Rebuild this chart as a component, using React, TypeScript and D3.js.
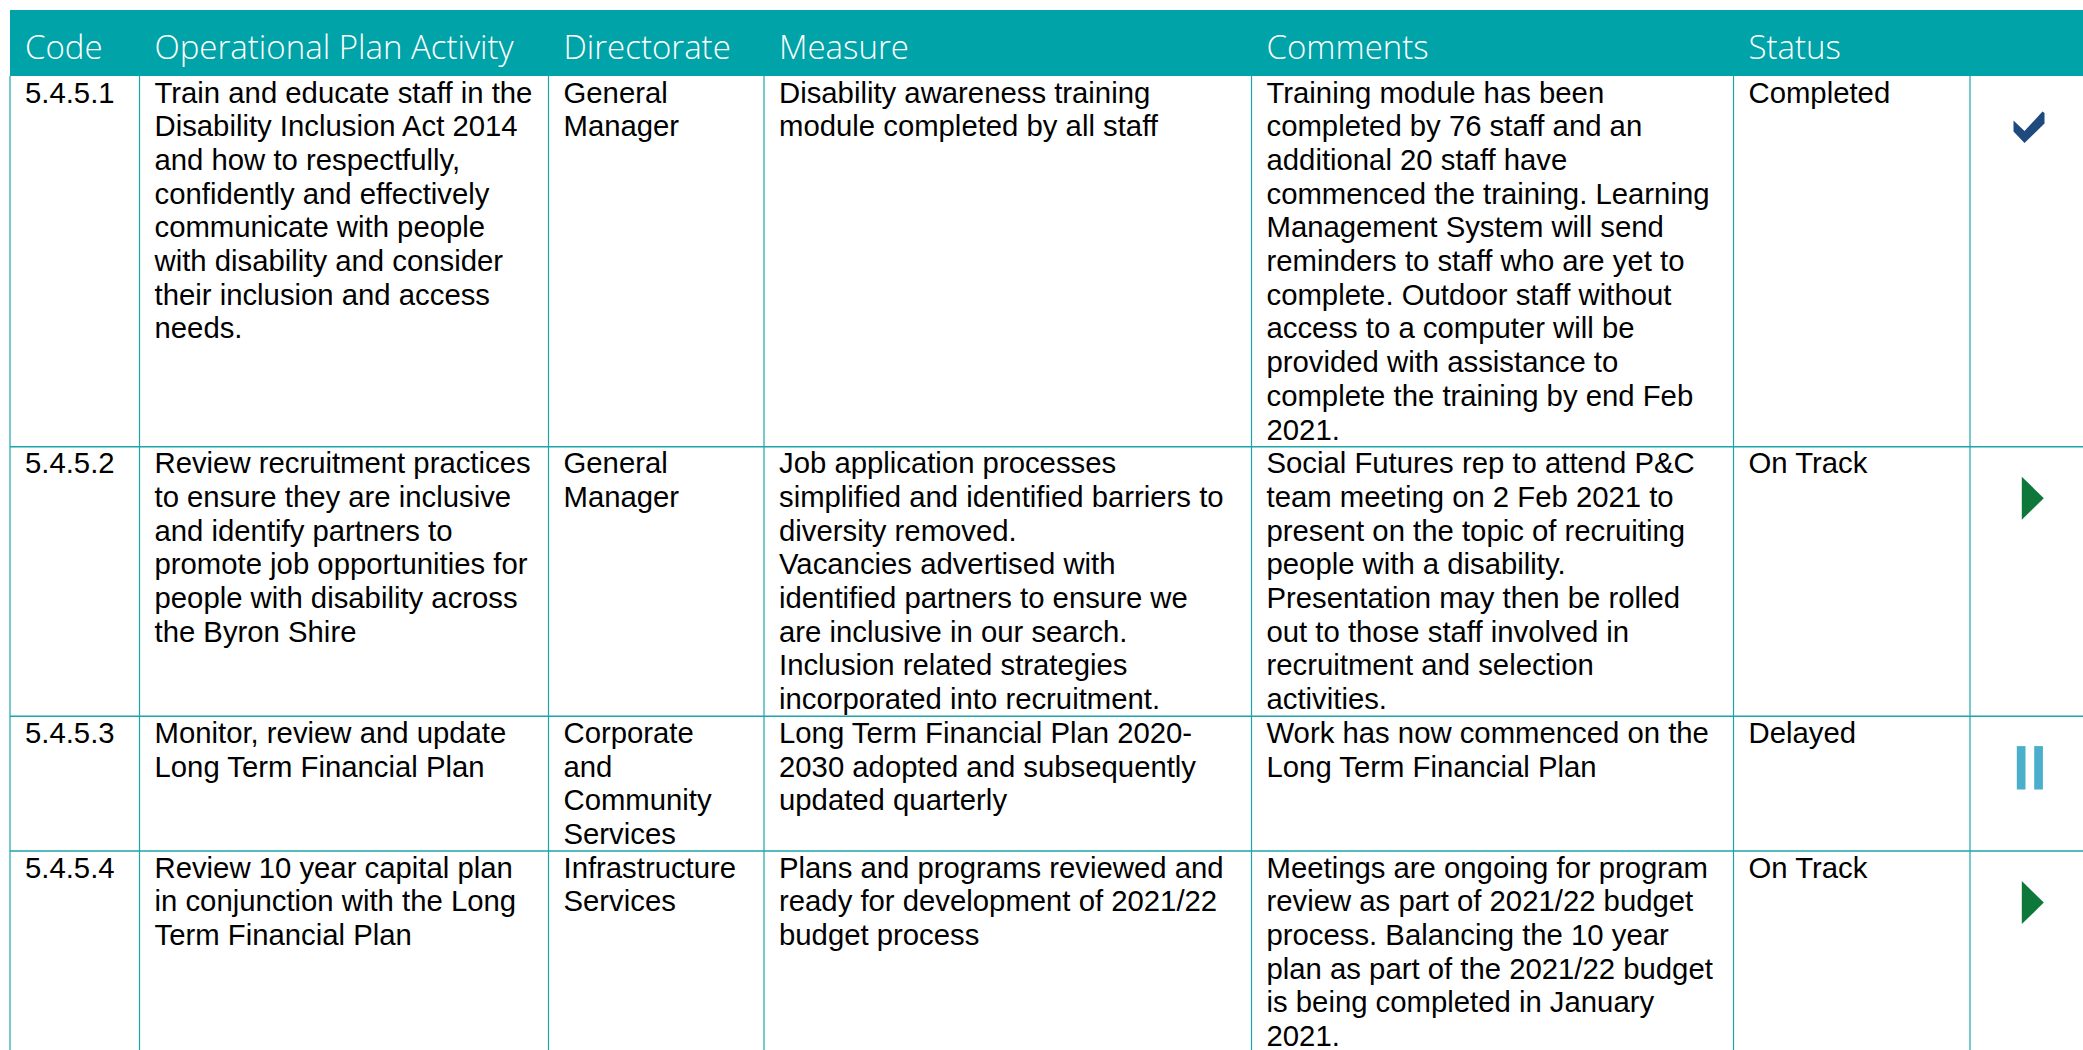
import React from "react";
import * as d3 from "d3";

// table content, one entry per row, each cell kept as its printed lines
const headers = ["Code", "Operational Plan Activity", "Directorate", "Measure", "Comments", "Status", ""];

const codes = ["5.4.5.1", "5.4.5.2", "5.4.5.3", "5.4.5.4"];

const activities = [
  ["Train and educate staff in the", "Disability Inclusion Act 2014", "and how to respectfully,", "confidently and effectively", "communicate with people", "with disability and consider", "their inclusion and access", "needs."],
  ["Review recruitment practices", "to ensure they are inclusive", "and identify partners to", "promote job opportunities for", "people with disability across", "the Byron Shire"],
  ["Monitor, review and update", "Long Term Financial Plan"],
  ["Review 10 year capital plan", "in conjunction with the Long", "Term Financial Plan"],
];

const directorates = [
  ["General", "Manager"],
  ["General", "Manager"],
  ["Corporate", "and", "Community", "Services"],
  ["Infrastructure", "Services"],
];

const measures = [
  ["Disability awareness training", "module completed by all staff"],
  ["Job application processes", "simplified and identified barriers to", "diversity removed.", "Vacancies advertised with", "identified partners to ensure we", "are inclusive in our search.", "Inclusion related strategies", "incorporated into recruitment."],
  ["Long Term Financial Plan 2020-", "2030 adopted and subsequently", "updated quarterly"],
  ["Plans and programs reviewed and", "ready for development of 2021/22", "budget process"],
];

const comments = [
  ["Training module has been", "completed by 76 staff and an", "additional 20 staff have", "commenced the training. Learning", "Management System will send", "reminders to staff who are yet to", "complete. Outdoor staff without", "access to a computer will be", "provided with assistance to", "complete the training by end Feb", "2021."],
  ["Social Futures rep to attend P&C", "team meeting on 2 Feb 2021 to", "present on the topic of recruiting", "people with a disability.", "Presentation may then be rolled", "out to those staff involved in", "recruitment and selection", "activities."],
  ["Work has now commenced on the", "Long Term Financial Plan"],
  ["Meetings are ongoing for program", "review as part of 2021/22 budget", "process. Balancing the 10 year", "plan as part of the 2021/22 budget", "is being completed in January", "2021."],
];

const statuses = ["Completed", "On Track", "Delayed", "On Track"];

const W = 2083;
const H = 1050;
const colEdges = [10, 139.5, 548.5, 764, 1251.5, 1733.5, 1970, W];
const headTop = 10;
const headBottom = 76;
const lineH = 33.7;
const fontSize = 29.3;
const pad = 15;
const teal = "#00a3a7";
const gridColor = "#1ba5aa";

const iconColor = d3.scaleOrdinal<string, string>()
  .domain(["Completed", "On Track", "Delayed"])
  .range(["#1f4a7e", "#0e783a", "#4bafcb"]);

export default function App() {
  const rows = codes.map((c, i) => [[c], activities[i], directorates[i], measures[i], comments[i], [statuses[i]]]);
  const heights = rows.map(r => d3.max(r, cell => cell.length)! * lineH);
  const tops = [headBottom, ...Array.from(d3.cumsum(heights)).map(h => headBottom + h)];

  const line = d3.line();
  const iconX = (colEdges[6] + colEdges[7]) / 2 + 3;

  const icon = (status: string, top: number) => {
    const cy = top + 51.5;
    const fill = iconColor(status);
    if (status === "Completed") {
      const x0 = iconX - 16, y0 = cy - 16;
      const pts: [number, number][] = [[0, 9], [11, 19.5], [29, 0], [31, 1.5], [31, 12], [11, 31.6], [0, 20]];
      return <path d={line(pts.map(([x, y]) => [x0 + x, y0 + y]))! + "Z"} fill={fill} />;
    }
    if (status === "Delayed") {
      return (
        <g fill={fill}>
          <rect x={iconX - 12.7} y={cy - 21.7} width={8.7} height={43.4} />
          <rect x={iconX + 4.7} y={cy - 21.7} width={8.7} height={43.4} />
        </g>
      );
    }
    const pts: [number, number][] = [[iconX - 7.7, cy - 21.5], [iconX + 14.3, cy], [iconX - 7.7, cy + 21.5]];
    return <path d={line(pts)! + "Z"} fill={fill} />;
  };

  return (
    <svg width={W} height={H} style={{ position: "absolute", left: 0, top: 0 }} fontFamily="'Liberation Sans', Arial, sans-serif">
      <rect x={0} y={0} width={W} height={H} fill="#fff" />
      <rect x={colEdges[0]} y={headTop} width={W - colEdges[0]} height={headBottom - headTop} fill={teal} />
      {headers.map((h, i) => (
        <text key={i} x={colEdges[i] + pad} y={59.3} fill="#fff" fontFamily="'Open Sans', sans-serif" fontWeight={300} fontSize={33}>
          {h}
        </text>
      ))}

      {/* vertical grid lines */}
      {colEdges.slice(0, 7).map((x, i) => (
        <line key={i} x1={x} x2={x} y1={headBottom} y2={H} stroke={gridColor} strokeWidth={1.2} />
      ))}
      {/* row separators */}
      {tops.slice(1).map((y, i) => (
        <line key={i} x1={colEdges[0]} x2={W} y1={y} y2={y} stroke={gridColor} strokeWidth={1.5} />
      ))}

      {rows.map((r, ri) => (
        <g key={ri}>
          {r.map((cell, ci) => (
            <text key={ci} x={colEdges[ci] + pad} y={tops[ri] + 26.5} fontSize={fontSize} fill="#000">
              {cell.map((t, li) => (
                <tspan key={li} x={colEdges[ci] + pad} dy={li === 0 ? 0 : lineH}>{t}</tspan>
              ))}
            </text>
          ))}
          {icon(statuses[ri], tops[ri])}
        </g>
      ))}
    </svg>
  );
}
